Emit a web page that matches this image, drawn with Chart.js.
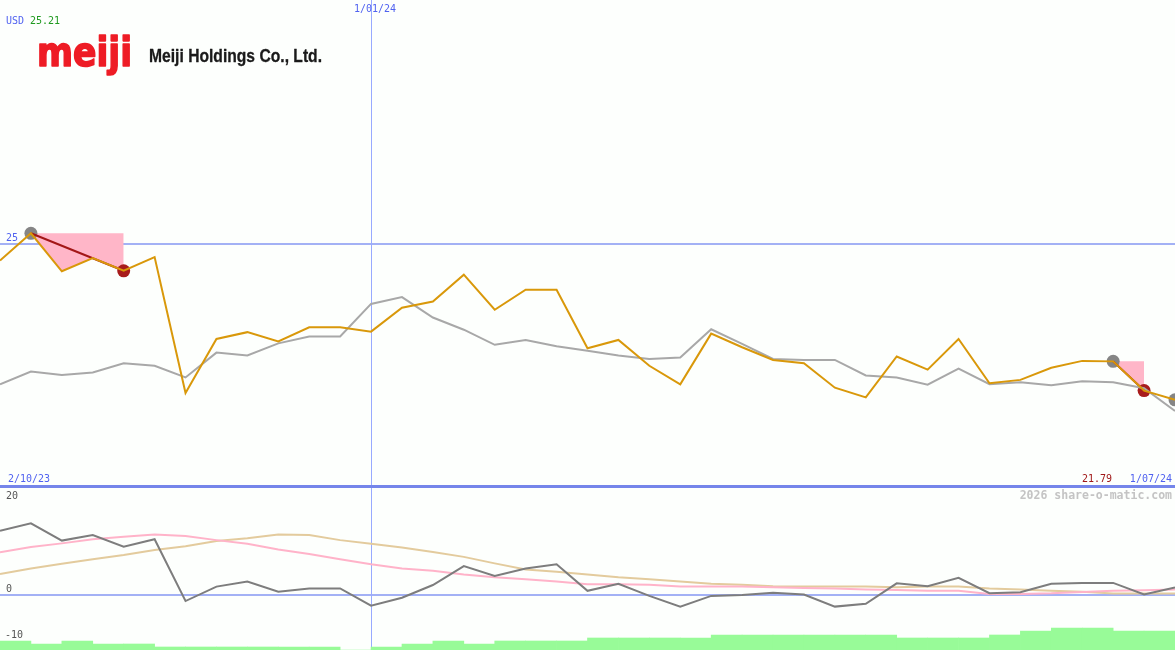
<!DOCTYPE html>
<html>
<head>
<meta charset="utf-8">
<title>Meiji Holdings Co., Ltd.</title>
<script src="https://cdn.jsdelivr.net/npm/chart.js@4.4.1/dist/chart.umd.min.js"></script>
<style>
  body { margin: 0; background: #fdfffd; }
  #wrap { position: relative; width: 1175px; height: 650px; overflow: hidden; }
  canvas { position: absolute; left: 0; }
  #priceChart { top: 0; }
  #lowerChart { top: 488px; }
</style>
</head>
<body>
<div id="wrap">
  <canvas id="priceChart" width="1175" height="488"></canvas>
  <canvas id="lowerChart" width="1175" height="162"></canvas>
</div>
<script>
// weekly closes, USD
const closes = [24.65, 25.21, 24.43, 24.70, 24.44, 24.72, 21.93, 23.04, 23.18, 22.99,
  23.28, 23.28, 23.19, 23.68, 23.81, 24.36, 23.64, 24.05, 24.05, 22.85,
  23.02, 22.49, 22.11, 23.15, 22.87, 22.61, 22.54, 22.04, 21.84, 22.68,
  22.41, 23.04, 22.13, 22.20, 22.45, 22.59, 22.58, 21.98, 21.79];
const average = [22.11, 22.37, 22.30, 22.35, 22.54, 22.49, 22.25, 22.76, 22.70, 22.95,
  23.09, 23.09, 23.76, 23.90, 23.48, 23.23, 22.92, 23.02, 22.89, 22.80,
  22.70, 22.63, 22.66, 23.24, 22.94, 22.63, 22.61, 22.61, 22.29, 22.25,
  22.10, 22.43, 22.11, 22.15, 22.09, 22.17, 22.15, 22.03, 21.56];
// lower panel
const momentum = [13.8, 15.4, 11.7, 12.9, 10.4, 12.0, -1.3, 1.8, 2.9, 0.7,
  1.4, 1.4, -2.3, -0.6, 2.15, 6.2, 4.1, 5.7, 6.6, 0.9,
  2.4, -0.2, -2.5, -0.2, 0, 0.5, 0.1, -2.5, -1.9, 2.5,
  1.9, 3.7, 0.4, 0.6, 2.4, 2.6, 2.6, 0.1, 1.6];
const fastAvg = [9.2, 10.3, 11.1, 12.0, 12.5, 13.0, 12.7, 11.8, 11.0, 9.8,
  8.8, 7.7, 6.6, 5.7, 5.2, 4.4, 3.8, 3.4, 2.9, 2.3,
  2.3, 2.2, 1.8, 1.8, 1.8, 1.65, 1.5, 1.4, 1.2, 1.1,
  0.9, 0.9, 0.2, 0.2, 0.35, 0.65, 0.9, 1.0, 1.2];
const slowAvg = [4.5, 5.7, 6.7, 7.7, 8.6, 9.7, 10.5, 11.6, 12.2, 13.0,
  12.9, 11.8, 11.0, 10.2, 9.25, 8.2, 6.8, 5.5, 5.0, 4.4,
  3.8, 3.4, 2.9, 2.4, 2.2, 1.9, 1.8, 1.8, 1.8, 1.65,
  1.8, 1.8, 1.4, 1.2, 0.9, 0.7, 0.3, 0.3, 0.3];
const volume = [3, 2, 3, 2, 2, 1, 1, 1, 1, 1, 1, 0, 1, 2, 3, 2, 3, 3, 3,
  4, 4, 4, 4, 5, 5, 5, 5, 5, 5, 4, 4, 4, 5, 6.3, 7.3, 7.3, 6.3, 6.3];
// signals: start (grey) and end (red) week
const signalFrom = [1, 36, 38];
const signalTo = [4, 37, null];
// tick labels
const tickLabels = ['2/10/23', '1/01/24', '1/07/24'];
const tickIndex = [0, 12, 38];

const lastIdx = closes.length - 1;
const mono = '"DejaVu Sans Mono", monospace';

// datasets built from the arrays above
const pts = arr => arr.map((v, i) => ({ x: i, y: v }));
const level = closes.map((v, i) => ({ x: i, y: null }));
const signalLine = [];
const startMarks = [];
const endMarks = [];
signalFrom.forEach((f, k) => {
  const t = signalTo[k];
  startMarks.push({ x: f, y: closes[f] });
  if (t === null) return;
  endMarks.push({ x: t, y: closes[t] });
  for (let i = f; i <= t; i++) level[i].y = closes[f];
  signalLine.push({ x: f, y: closes[f] }, { x: t, y: closes[t] }, { x: t, y: null });
});

function fitText(ctx, text, x, y, width, stroke) {
  const w = ctx.measureText(text).width;
  ctx.save();
  ctx.translate(x, y);
  ctx.scale(width / w, 1);
  ctx.fillText(text, 0, 0);
  if (stroke) {
    ctx.strokeStyle = ctx.fillStyle;
    ctx.lineWidth = stroke;
    ctx.lineJoin = 'round';
    ctx.strokeText(text, 0, 0);
  }
  ctx.restore();
}

const priceGuides = {
  id: 'priceGuides',
  beforeDatasetsDraw(chart) {
    const { ctx, chartArea, scales } = chart;
    ctx.save();
    ctx.fillStyle = '#a3b1f5';
    const y25 = Math.round(scales.y.getPixelForValue(25));
    ctx.fillRect(0, y25 - 1, chartArea.right, 2);
    ctx.fillStyle = '#98aaff';
    const xv = Math.round(scales.x.getPixelForValue(tickIndex[1]));
    ctx.fillRect(xv, 0, 1, chartArea.bottom);
    ctx.restore();
  },
  afterDraw(chart) {
    const { ctx, chartArea, scales } = chart;
    ctx.save();
    ctx.fillStyle = '#7585ea';
    ctx.fillRect(0, 485, chartArea.right, 3);

    ctx.font = '10px ' + mono;
    ctx.textBaseline = 'middle';
    ctx.fillStyle = '#5062f0';
    ctx.fillText('USD', 6, 21);
    ctx.fillStyle = '#1f9a1f';
    ctx.fillText(closes[1].toFixed(2), 30, 21);

    ctx.fillStyle = '#5062f0';
    ctx.fillText('25', 6, scales.y.getPixelForValue(25) - 5);
    ctx.textAlign = 'center';
    ctx.fillText(tickLabels[1], scales.x.getPixelForValue(tickIndex[1]) + 4, 9);
    ctx.textAlign = 'left';
    ctx.fillText(tickLabels[0], 8, 479);
    ctx.textAlign = 'right';
    ctx.fillText(tickLabels[2], 1172, 479);
    ctx.fillStyle = '#a01818';
    ctx.fillText(closes[lastIdx].toFixed(2), 1112, 479);

    // logo
    ctx.textAlign = 'left';
    ctx.textBaseline = 'alphabetic';
    ctx.fillStyle = '#ee1c25';
    ctx.font = 'bold 40px "DejaVu Sans", sans-serif';
    fitText(ctx, 'meiji', 37, 66, 95, 1.6);
    ctx.fillStyle = '#1a1a1a';
    ctx.font = 'bold 18px "Liberation Sans", Arial, sans-serif';
    fitText(ctx, 'Meiji Holdings Co., Ltd.', 149, 62, 173, 0.3);
    ctx.restore();
  }
};

const lowerGuides = {
  id: 'lowerGuides',
  beforeDatasetsDraw(chart) {
    const { ctx, chartArea, scales } = chart;
    ctx.save();
    ctx.fillStyle = '#a3b1f5';
    const y0 = Math.round(scales.y.getPixelForValue(0));
    ctx.fillRect(0, y0 - 1, chartArea.right, 2);
    ctx.fillStyle = '#98aaff';
    const xv = Math.round(scales.x.getPixelForValue(tickIndex[1]));
    ctx.fillRect(xv, 0, 1, chartArea.bottom);
    ctx.restore();
  },
  afterDraw(chart) {
    const { ctx, scales } = chart;
    ctx.save();
    ctx.textBaseline = 'middle';
    ctx.font = '10px ' + mono;
    ctx.fillStyle = '#555555';
    [20, 0, -10].forEach(v => {
      ctx.fillText(String(v), v < 0 ? 5 : 6, scales.y.getPixelForValue(v) - 6);
    });
    ctx.font = 'bold 11.5px ' + mono;
    ctx.fillStyle = '#c4c4c4';
    ctx.textAlign = 'right';
    ctx.fillText('2026 share-o-matic.com', 1172, 8);
    ctx.restore();
  }
};

const common = {
  responsive: false,
  animation: false,
  devicePixelRatio: 1,
  layout: { padding: 0, autoPadding: false },
  plugins: { legend: { display: false }, tooltip: { enabled: false } },
  elements: { point: { radius: 0 }, line: { tension: 0 } }
};

new Chart(document.getElementById('priceChart'), {
  type: 'line',
  data: {
    datasets: [
      { label: 'Close', data: pts(closes), borderColor: '#d9980a', borderWidth: 2, order: 0 },
      { label: 'Average', data: pts(average), borderColor: '#a8a8a8', borderWidth: 2, order: 1 },
      { label: 'Signal', data: signalLine, borderColor: '#a31717', borderWidth: 2, order: 2 },
      { label: 'End', data: endMarks, showLine: false, pointRadius: 6.5, pointBorderWidth: 0,
        pointBackgroundColor: '#a81c1c', order: 3, clip: false },
      { label: 'Start', data: startMarks, showLine: false, pointRadius: 6.5, pointBorderWidth: 0,
        pointBackgroundColor: '#858585', order: 3 },
      { label: 'Level', data: level, borderColor: 'transparent', borderWidth: 0,
        backgroundColor: '#ffb6c8', fill: { target: 0 }, order: 5 }
    ]
  },
  options: Object.assign({}, common, {
    scales: {
      x: { type: 'linear', min: 0, max: lastIdx, display: false, offset: false },
      y: { type: 'linear', min: 19.98, max: 30, display: false }
    }
  }),
  plugins: [priceGuides]
});

new Chart(document.getElementById('lowerChart'), {
  type: 'line',
  data: {
    datasets: [
      { label: 'Momentum', data: pts(momentum), borderColor: '#7d7d7d', borderWidth: 2, order: 0 },
      { label: 'Fast', data: pts(fastAvg), borderColor: '#ffb3c9', borderWidth: 2, order: 1 },
      { label: 'Slow', data: pts(slowAvg), borderColor: '#e3cb9d', borderWidth: 2, order: 2 },
      { type: 'bar', label: 'Volume', data: volume.map((v, i) => ({ x: i + 0.5, y: v })),
        yAxisID: 'yVol', backgroundColor: '#98fb98', borderWidth: 0,
        barPercentage: 1, categoryPercentage: 1, order: 3 }
    ]
  },
  options: Object.assign({}, common, {
    scales: {
      x: { type: 'linear', min: 0, max: lastIdx, display: false, offset: false },
      y: { type: 'linear', min: -11.83, max: 23.01, display: false },
      yVol: { type: 'linear', min: 0, max: 54, display: false }
    }
  }),
  plugins: [lowerGuides]
});
</script>
</body>
</html>
